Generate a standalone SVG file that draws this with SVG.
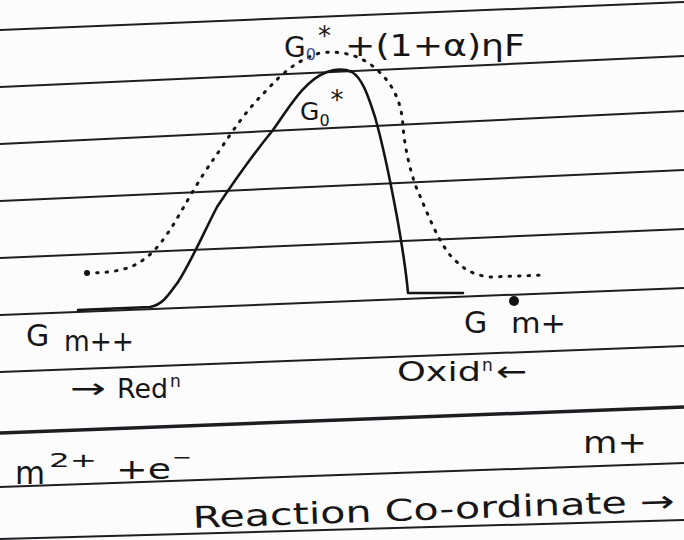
<svg xmlns="http://www.w3.org/2000/svg" width="684" height="540" viewBox="0 0 684 540">
<defs>
<style>
.rule{stroke:#1e1e22;stroke-width:2;fill:none}
.curve{stroke:#141414;stroke-width:2.6;fill:none;stroke-linecap:round;stroke-linejoin:round}
.dots{stroke:#141414;stroke-width:3;fill:none;stroke-dasharray:1.5 8;stroke-linecap:round}
.t{font-family:"DejaVu Sans","Liberation Sans",sans-serif;fill:#161616}
</style>
</defs>
<rect width="684" height="540" fill="#fdfcfd"/>
<g id="ruled-lines">
<line class="rule" x1="0" y1="30" x2="684" y2="2"/>
<line class="rule" x1="0" y1="87" x2="684" y2="56"/>
<line class="rule" x1="0" y1="144" x2="684" y2="111"/>
<line class="rule" x1="0" y1="201" x2="684" y2="170"/>
<line class="rule" x1="0" y1="258" x2="684" y2="229"/>
<line class="rule" x1="0" y1="315" x2="684" y2="288"/>
<line class="rule" x1="0" y1="372" x2="684" y2="346"/>
<line class="rule" x1="0" y1="433" x2="684" y2="407" style="stroke-width:3.5"/>
<line class="rule" x1="0" y1="487" x2="684" y2="463"/>
<line class="rule" x1="0" y1="539" x2="684" y2="520"/>
</g>
<g id="curves">
<path id="solid-curve" class="curve" d="M78,310 L150,307 C162,305 168,296 178,282 C190,264 205,230 217,207 C235,180 255,152 273,130 C290,106 305,80 327,72 C336,69 345,69 352,72 C362,78 368,95 375,117 C383,145 392,190 397,217 C402,245 406,270 408,293 L463,293"/>
<path id="dotted-curve" class="dots" d="M87,273 C110,273 130,270 143,260 C155,252 165,238 175,222 C185,205 200,178 213,160 C225,143 240,118 260,97 C275,82 290,62 320,53 C340,50 360,55 375,68 C395,85 402,105 403,127 C405,150 412,180 420,196 C428,215 438,240 450,255 C460,266 470,275 490,277 L546,275"/>
<circle cx="87" cy="273" r="3" fill="#141414"/>
</g>
<g id="label-top">
<text class="t" x="284" y="57" font-size="28">G<tspan font-size="16" dy="3" fill="#2f4c9a">0</tspan><tspan font-size="26" dx="2" dy="-15">*</tspan></text>
<text class="t" x="345" y="56" font-size="30" textLength="180" lengthAdjust="spacingAndGlyphs">+(1+α)ηF</text>
</g>
<g id="label-peak">
<text class="t" x="300" y="120" font-size="25">G<tspan font-size="16" dy="6">0</tspan><tspan font-size="26" dx="1" dy="-17">*</tspan></text>
</g>
<g id="label-left">
<text class="t" x="26" y="346" font-size="30">G</text>
<text class="t" x="64" y="351" font-size="28" textLength="70" lengthAdjust="spacingAndGlyphs">m++</text>
<text class="t" x="70" y="398" font-size="28" textLength="36" lengthAdjust="spacingAndGlyphs">→</text>
<text class="t" x="117" y="398" font-size="26" textLength="51" lengthAdjust="spacingAndGlyphs">Red</text>
<text class="t" x="170" y="387" font-size="17">n</text>
</g>
<g id="label-right">
<text class="t" x="464" y="333" font-size="30">G</text>
<text class="t" x="511" y="333" font-size="28" textLength="55" lengthAdjust="spacingAndGlyphs">m+</text>
<circle cx="514" cy="301" r="5" fill="#111"/>
<text class="t" x="397" y="381" font-size="26" textLength="84" lengthAdjust="spacingAndGlyphs">Oxid</text>
<text class="t" x="482" y="371" font-size="17">n</text>
<text class="t" x="496" y="381" font-size="28" textLength="31" lengthAdjust="spacingAndGlyphs">←</text>
</g>
<g id="label-bottom">
<text class="t" x="15" y="484" font-size="32" textLength="30" lengthAdjust="spacingAndGlyphs">m</text>
<text class="t" x="49" y="467" font-size="20" textLength="48" lengthAdjust="spacingAndGlyphs">2+</text>
<text class="t" x="116" y="479" font-size="28" textLength="55" lengthAdjust="spacingAndGlyphs">+e</text>
<text class="t" x="172" y="464" font-size="20" textLength="20" lengthAdjust="spacingAndGlyphs">−</text>
<text class="t" x="583" y="453" font-size="30" textLength="64" lengthAdjust="spacingAndGlyphs">m+</text>
<text class="t" x="193" y="528" font-size="30" textLength="482" lengthAdjust="spacingAndGlyphs" transform="rotate(-2 193 528)">Reaction  Co-ordinate →</text>
</g>
</svg>
